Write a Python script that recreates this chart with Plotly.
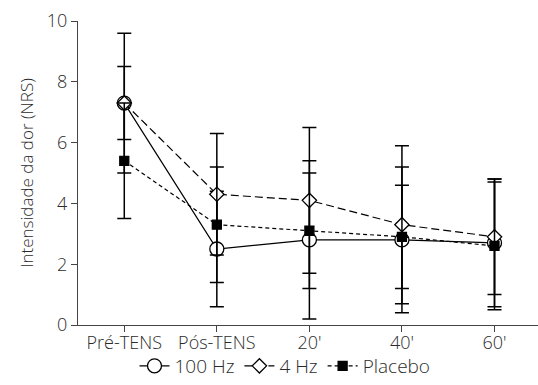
import plotly.graph_objects as go

categories = ["Pré-TENS", "Pós-TENS", "20'", "40'", "60'"]
hz100 = [7.3, 2.5, 2.8, 2.8, 2.7]
hz100_err = [2.3, 1.9, 2.6, 2.4, 2.1]
hz4 = [7.3, 4.3, 4.1, 3.3, 2.9]
hz4_err = [1.2, 2.0, 2.4, 2.6, 1.9]
placebo = [5.4, 3.3, 3.1, 2.9, 2.6]
placebo_err = [1.9, 1.9, 1.9, 1.7, 2.1]

FONT = "Open Sans"
TXT = "#2b2b2b"

fig = go.Figure()

def add(name, y, err, dash, symbol, fill, size):
    fig.add_trace(go.Scatter(
        x=list(range(len(categories))), y=y, name=name, mode="lines+markers",
        line=dict(color="black", width=1.2, dash=dash),
        marker=dict(symbol=symbol, size=size, color=fill,
                    line=dict(color="black", width=1.3)),
        error_y=dict(type="data", array=err, visible=True, color="black",
                     thickness=1.5, width=7),
    ))

add("100 Hz", hz100, hz100_err, "solid", "circle", "white", 14)
add("4 Hz", hz4, hz4_err, "8px,4px", "diamond", "white", 11)
add("Placebo", placebo, placebo_err, "4px,3px", "square", "black", 9)

fig.update_layout(
    width=538, height=385,
    margin=dict(l=78, r=0, t=21, b=60, autoexpand=False),
    paper_bgcolor="white", plot_bgcolor="white",
    font=dict(family=FONT, size=17, color=TXT, weight=300),
    showlegend=True,
    legend=dict(orientation="h", x=0.45, xanchor="center", y=-60 / 304,
                yanchor="bottom", font=dict(size=19, color=TXT, weight=300),
                bgcolor="rgba(0,0,0,0)",
                itemwidth=30, tracegroupgap=0),
    xaxis=dict(
        tickmode="array", tickvals=list(range(len(categories))), ticktext=categories,
        range=[-0.5, 4.47], showgrid=False, zeroline=False, automargin=False,
        showline=True, linecolor="#444", linewidth=1.2,
        ticks="outside", ticklen=6, tickcolor="#444", tickwidth=1.2,
        ticklabelstandoff=-5,
        tickfont=dict(size=18, color=TXT, weight=300),
    ),
    yaxis=dict(
        range=[0, 10], tickvals=[0, 2, 4, 6, 8, 10], showgrid=False, zeroline=False,
        automargin=False,
        showline=True, linecolor="#444", linewidth=1.2,
        ticks="outside", ticklen=6, tickcolor="#444", tickwidth=1.2,
        tickfont=dict(size=18, color=TXT, weight=300),
        title=dict(text="Intensidade da dor (NRS)", font=dict(size=17, color=TXT, weight=300), standoff=8),
    ),
)

fig.write_html("out.html", config={"displayModeBar": False},
               post_script="document.body.style.margin='0';")
